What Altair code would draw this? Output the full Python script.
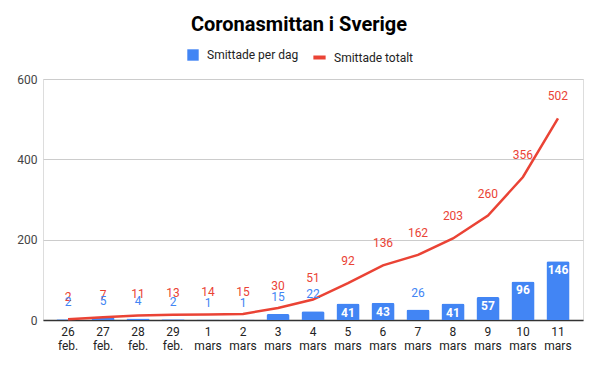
import altair as alt
import pandas as pd

dates = ["26 feb.", "27 feb.", "28 feb.", "29 feb.", "1 mars", "2 mars", "3 mars", "4 mars",
         "5 mars", "6 mars", "7 mars", "8 mars", "9 mars", "10 mars", "11 mars"]
daily = [2, 5, 4, 2, 1, 1, 15, 22, 41, 43, 26, 41, 57, 96, 146]
total = [2, 7, 11, 13, 14, 15, 30, 51, 92, 136, 162, 203, 260, 356, 502]

BLUE = "#4285f4"
RED = "#ea4335"
FONT = "Roboto"

df = pd.DataFrame({
    "date": dates,
    "daily": daily,
    "total": total,
    "s_bar": "Smittade per dag",
    "s_line": "Smittade totalt",
})

x = alt.X("date:N", sort=dates,
          scale=alt.Scale(paddingInner=0.34, paddingOuter=0.385),
          axis=alt.Axis(title=None, labelAngle=0, labelExpr="split(datum.label, ' ')",
                        labelFontSize=12, labelColor="#222222", labelFont=FONT,
                        ticks=False, domainColor="#333333", domainWidth=1.5,
                        labelPadding=6, labelLineHeight=14))

yscale = alt.Scale(domain=[0, 600], nice=False)

base = alt.Chart(df)

bars = base.mark_bar(cornerRadiusTopLeft=2, cornerRadiusTopRight=2).encode(
    x=x,
    y=alt.Y("daily:Q", scale=yscale,
            axis=alt.Axis(title=None, values=[0, 200, 400, 600], domain=False, ticks=False,
                          gridColor="#cccccc", labelFontSize=12, labelColor="#444444",
                          labelFont=FONT, labelPadding=6)),
    color=alt.Color("s_bar:N", scale=alt.Scale(domain=["Smittade per dag"], range=[BLUE]),
                    legend=alt.Legend(title=None, orient="none", legendX=144, legendY=-30,
                                      symbolType="square", symbolSize=130, symbolStrokeWidth=0,
                                      labelFontSize=12, labelFont=FONT, labelColor="#222222",
                                      labelOffset=8, padding=0)),
)

line = base.mark_line(strokeWidth=2.5).encode(
    x=x,
    y=alt.Y("total:Q", scale=yscale),
    stroke=alt.Stroke("s_line:N", scale=alt.Scale(domain=["Smittade totalt"], range=[RED]),
                      legend=alt.Legend(title=None, orient="none", legendX=268, legendY=-30,
                                        symbolType="stroke", symbolSize=150, symbolStrokeWidth=4,
                                        labelFontSize=12, labelFont=FONT, labelColor="#222222",
                                        labelOffset=6, padding=0)),
)

line_labels = base.mark_text(color=RED, fontSize=12, font=FONT, dy=-22, baseline="middle").encode(
    x=x, y=alt.Y("total:Q", scale=yscale), text="total:Q")

out_labels = base.transform_filter("datum.daily < 30").mark_text(
    color=BLUE, fontSize=12, font=FONT, dy=-17, baseline="middle").encode(
    x=x, y=alt.Y("daily:Q", scale=yscale), text="daily:Q")

in_labels = base.transform_filter("datum.daily >= 30").mark_text(
    color="white", fontSize=12, font=FONT, fontWeight="bold", dy=9, baseline="middle").encode(
    x=x, y=alt.Y("daily:Q", scale=yscale), text="daily:Q")

chart = alt.layer(bars, line, line_labels, out_labels, in_labels).resolve_scale(
    color="independent", stroke="independent"
).properties(
    width=540, height=241,
    autosize=alt.AutoSizeParams(type="none"),
    padding={"left": 35, "top": 71, "right": 7, "bottom": 38},
    title=alt.Title("Coronasmittan i Sverige", font=FONT, fontSize=20, fontWeight="bold",
                    color="#000000", anchor="middle", frame="group", dx=-14, offset=14),
).configure_view(stroke=None).configure(background="white")

chart.save("out.html", embed_options={"renderer": "svg", "actions": False})
